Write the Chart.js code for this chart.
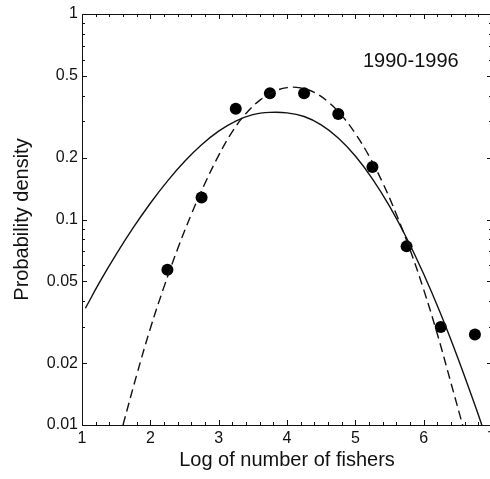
<!DOCTYPE html>
<html>
<head>
<meta charset="utf-8">
<script src="https://cdn.jsdelivr.net/npm/chart.js@4/dist/chart.umd.min.js"></script>
<style>
  html, body { margin: 0; padding: 0; background: #fff; overflow: hidden; }
  #wrap { width: 500px; height: 479px; }
</style>
</head>
<body>
<div id="wrap"><canvas id="chart" width="500" height="479"></canvas></div>
<script>
/* ── data ── */
const obsX = [2.25, 2.75, 3.25, 3.75, 4.25, 4.75, 5.25, 5.75, 6.25, 6.75];
const obsY = [0.057, 0.128, 0.346, 0.412, 0.411, 0.326, 0.180, 0.074, 0.030, 0.0276];

// solid fit
const fitAX = [1.05, 1.25, 1.5, 1.75, 2.0, 2.25, 2.5, 2.75, 3.0, 3.25, 3.5, 3.75, 4.0,
               4.25, 4.5, 4.75, 5.0, 5.25, 5.5, 5.75, 6.0, 6.25, 6.5, 6.75, 6.86];
const fitAY = [0.037, 0.049, 0.0676, 0.0912, 0.120, 0.1538, 0.1914, 0.231, 0.269, 0.301, 0.3236, 0.332, 0.3304,
               0.317, 0.289, 0.2495, 0.2037, 0.1578, 0.1161, 0.0813, 0.0543, 0.0347, 0.0212, 0.0125, 0.0098];

// dashed fit
const fitBX = [1.6, 1.8, 2.0, 2.2, 2.4, 2.6, 2.8, 3.0, 3.2, 3.4, 3.6, 3.8, 4.0,
               4.2, 4.4, 4.6, 4.8, 5.0, 5.2, 5.4, 5.6, 5.8, 6.0, 6.2, 6.4, 6.6];
const fitBY = [0.0100, 0.0175, 0.0295, 0.047, 0.072, 0.106, 0.150, 0.205, 0.268, 0.328, 0.380, 0.418, 0.438,
               0.437, 0.415, 0.374, 0.321, 0.262, 0.204, 0.151, 0.106, 0.0714, 0.0456, 0.0277, 0.0160, 0.0092];

const yTicks = [0.01, 0.02, 0.05, 0.1, 0.2, 0.5, 1];
const yMinor = [0.03, 0.04, 0.06, 0.07, 0.08, 0.09, 0.3, 0.4, 0.6, 0.7, 0.8, 0.9];
const xRange = [1, 7];
const periodLabel = '1990-1996';

const FONT = "'Liberation Sans', Arial, Helvetica, sans-serif";
const INK = '#111';

function pairs(xs, ys) {
  return xs.map((x, i) => ({ x, y: ys[i] }));
}

/* ── inward ticks, top frame line and period label ── */
const frame = {
  id: 'frame',
  afterDraw(chart) {
    const { ctx, chartArea: a, scales: { x, y } } = chart;
    ctx.save();
    ctx.strokeStyle = INK;
    ctx.lineWidth = 1;
    ctx.beginPath();
    ctx.moveTo(a.left, a.top + 0.5);
    ctx.lineTo(a.right, a.top + 0.5);
    ctx.moveTo(a.right - 0.5, a.top);
    ctx.lineTo(a.right - 0.5, a.bottom);
    // x ticks, every 0.2
    for (let i = 0; i <= (xRange[1] - xRange[0]) * 5; i++) {
      const v = xRange[0] + i * 0.2;
      const px = Math.round(x.getPixelForValue(v)) + 0.5;
      const len = i % 5 === 0 ? 5 : 3;
      ctx.moveTo(px, a.bottom); ctx.lineTo(px, a.bottom - len);
      ctx.moveTo(px, a.top); ctx.lineTo(px, a.top + len);
    }
    // y ticks
    yTicks.concat(yMinor).forEach(v => {
      const py = Math.round(y.getPixelForValue(v)) + 0.5;
      const len = yTicks.includes(v) ? 5 : 3;
      ctx.moveTo(a.left, py); ctx.lineTo(a.left + len, py);
      ctx.moveTo(a.right, py); ctx.lineTo(a.right - len, py);
    });
    ctx.stroke();

    ctx.fillStyle = INK;
    ctx.font = '20px ' + FONT;
    ctx.textAlign = 'left';
    ctx.textBaseline = 'alphabetic';
    ctx.fillText(periodLabel, 363, 67);
    ctx.restore();
  }
};

new Chart(document.getElementById('chart'), {
  data: {
    datasets: [
      {
        type: 'line',
        data: pairs(fitAX, fitAY),
        borderColor: INK,
        borderWidth: 1.4,
        pointRadius: 0,
        tension: 0.4,
        fill: false,
      },
      {
        type: 'line',
        data: pairs(fitBX, fitBY),
        borderColor: INK,
        borderWidth: 1.4,
        borderDash: [9, 5],
        pointRadius: 0,
        tension: 0.4,
        fill: false,
      },
      {
        type: 'scatter',
        data: pairs(obsX, obsY),
        backgroundColor: '#000',
        borderColor: '#000',
        pointRadius: 6,
        borderWidth: 0,
        clip: false,
      },
    ],
  },
  options: {
    responsive: false,
    animation: false,
    events: [],
    layout: { padding: { top: 14, right: 8, left: 0, bottom: 0 } },
    plugins: { legend: { display: false }, tooltip: { enabled: false } },
    scales: {
      x: {
        type: 'linear',
        min: xRange[0],
        max: xRange[1],
        grid: { display: false, drawTicks: false },
        border: { display: true, color: INK, width: 1 },
        ticks: { stepSize: 1, autoSkip: false, color: INK, padding: 4, font: { family: FONT, size: 16 } },
        title: {
          display: true,
          text: 'Log of number of fishers',
          color: INK,
          font: { family: FONT, size: 20 },
          padding: { top: 0, bottom: 7 },
        },
        afterFit(s) { s.height = 54; s.paddingLeft = 0; s.paddingRight = 0; },
      },
      y: {
        type: 'logarithmic',
        min: 0.01,
        max: 1,
        grid: { display: false, drawTicks: false },
        border: { display: true, color: INK, width: 1 },
        afterBuildTicks(s) { s.ticks = yTicks.map(v => ({ value: v })); },
        ticks: {
          color: INK,
          padding: 4,
          font: { family: FONT, size: 16 },
          callback: v => String(v),
        },
        title: {
          display: true,
          text: 'Probability density',
          color: INK,
          font: { family: FONT, size: 20 },
          padding: { top: 10, bottom: 0 },
        },
        afterFit(s) { s.width = 82; s.paddingTop = 0; s.paddingBottom = 0; },
      },
    },
  },
  plugins: [frame],
});
</script>
</body>
</html>
